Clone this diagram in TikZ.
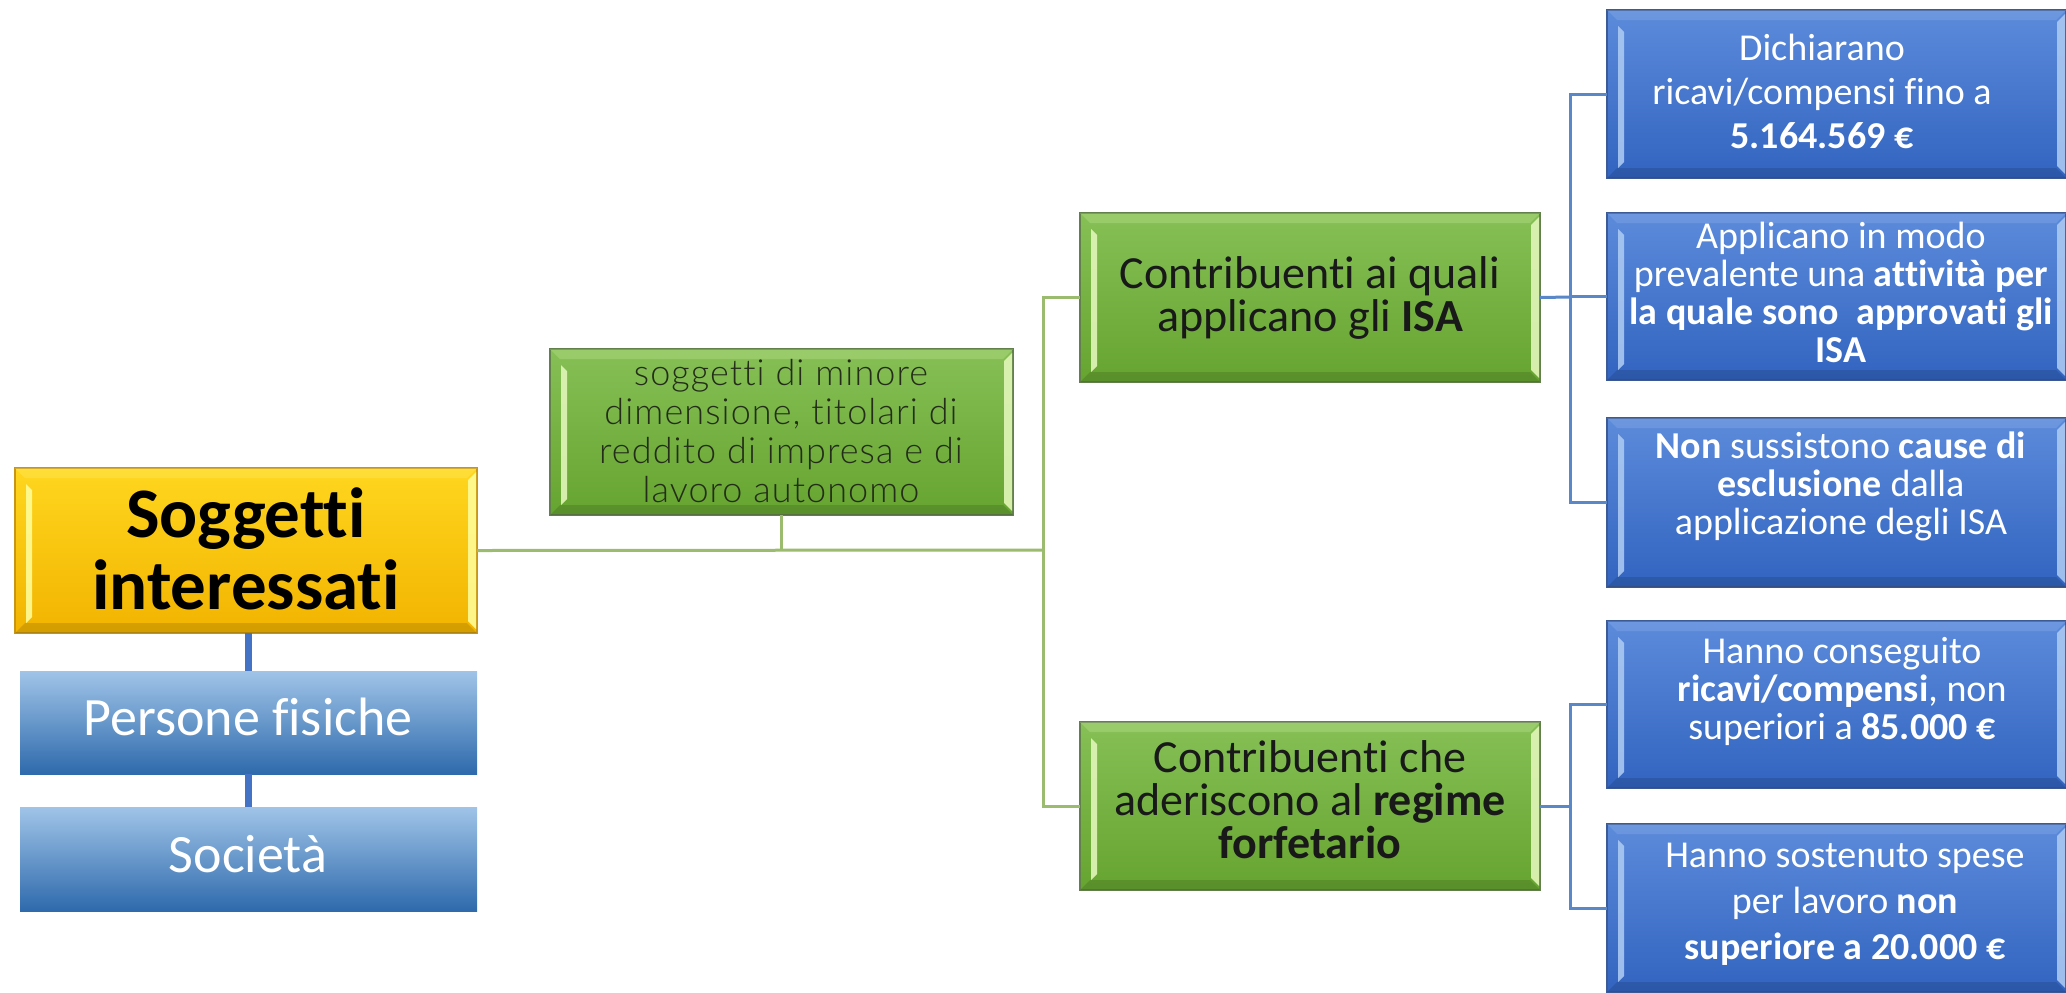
\documentclass[tikz,border=0pt]{standalone}
\usepackage{fontspec}
\setmainfont{Carlito}[Ligatures=NoCommon]
\newfontfamily\latofont{Lato Light}[Ligatures=NoCommon, LetterSpace=3]
\usetikzlibrary{calc}
\definecolor{gTop}{RGB}{134,192,86}
\definecolor{gBot}{RGB}{102,164,48}
\definecolor{gLight}{RGB}{226,246,184}
\definecolor{gEdge}{RGB}{98,128,76}
\definecolor{yTop}{RGB}{255,214,30}
\definecolor{yBot}{RGB}{242,180,0}
\definecolor{yLight}{RGB}{255,252,150}
\definecolor{yEdge}{RGB}{200,150,20}
\definecolor{bTop}{RGB}{92,139,219}
\definecolor{bBot}{RGB}{50,100,192}
\definecolor{bLight}{RGB}{170,200,242}
\definecolor{bEdge}{RGB}{60,90,150}
\definecolor{pTop}{RGB}{160,196,232}
\definecolor{pBot}{RGB}{46,106,172}
\definecolor{lineGreen}{RGB}{155,187,110}
\definecolor{lineBlue}{RGB}{90,135,200}
\definecolor{thickBlue}{RGB}{68,114,196}
\definecolor{sogText}{RGB}{35,45,25}
\tikzset{
  boxbase/.style={inner sep=0pt, outer sep=0pt, line width=0.8pt},
  gline/.style={draw=lineGreen, line width=1.5pt},
  bline/.style={draw=lineBlue, line width=1.5pt},
  thickline/.style={draw=thickBlue, line width=3.5pt},
  lbl/.style={align=center, inner sep=0pt},
  bluetxt/.style={lbl, text=white, font=\fontsize{19}{19}\selectfont},
  greentxt/.style={lbl, text=black!90, font=\fontsize{23}{21.5}\selectfont},
}
% name, x0, y0, x1, y1, colour prefix
\newcommand\bevelbox[6]{%
  \node[boxbase, minimum width={(#4-(#2))*0.5pt}, minimum height={(#5-(#3))*0.5pt},
        top color=#6Top, bottom color=#6Bot, draw=#6Edge] (#1) at ({(#2+#4)/2},{(#3+#5)/2}) {};
  \fill[#6Light, opacity=.22] (#2,#3) -- (#4,#3) -- ({#4-10},{#3+10}) -- ({#2+10},{#3+10}) -- cycle;
  \fill[black, opacity=.12] (#2,#5) -- (#4,#5) -- ({#4-10},{#5-10}) -- ({#2+10},{#5-10}) -- cycle;
  \fill[#6Light, opacity=.9] ({#2+11},{#3+16}) -- ({#2+17},{#3+22}) -- ({#2+17},{#5-16}) -- ({#2+11},{#5-10}) -- cycle;
  \fill[#6Light, opacity=.9] ({#4-9},{#3+12}) -- ({#4-1},{#3+4}) -- ({#4-1},{#5-4}) -- ({#4-9},{#5-12}) -- cycle;
}
\begin{document}
\begin{tikzpicture}[x=0.5pt, y=-0.5pt]
\useasboundingbox[fill=white] (0,0) rectangle (2066,992);

% left column
\bevelbox{yel}{15}{468}{477}{633}{y}
\node[boxbase, minimum width=228.5pt, minimum height=51.5pt, top color=pTop, bottom color=pBot] (pers) at (248.5,722.5) {};
\node[boxbase, minimum width=228.5pt, minimum height=52pt, top color=pTop, bottom color=pBot] (soc) at (248.5,859) {};

% middle
\bevelbox{sog}{550}{349}{1013}{515}{g}
\bevelbox{isa}{1080}{213}{1540}{382}{g}
\bevelbox{reg}{1080}{722}{1540}{890}{g}

% right column
\bevelbox{bA}{1607}{10}{2066}{178}{b}
\bevelbox{bB}{1607}{213}{2066}{380}{b}
\bevelbox{bC}{1607}{418}{2066}{587}{b}
\bevelbox{bD}{1607}{621}{2066}{788}{b}
\bevelbox{bE}{1607}{824}{2066}{992}{b}

% connectors
\draw[thickline] (pers.north) -- (pers.north |- yel.south);
\draw[thickline] (soc.north) -- (pers.south -| soc.north);
\coordinate (gj) at (1043,550);
\draw[gline] (yel.east) -- (gj);
\draw[gline] (sog.south) -- (sog.south |- yel.east);
\draw[gline] (isa.west) -- ++(-37,0) |- (reg.west);
\coordinate (bj1) at (1570,297);
\coordinate (bj2) at (1570,806);
\draw[bline] (isa.east) -- (bj1);
\draw[bline] (bA.west) -- (bA.west -| bj1) |- (bC.west);
\draw[bline] (bB.west) -- (bB.west -| bj1);
\draw[bline] (reg.east) -- (bj2);
\draw[bline] (bD.west) -- (bD.west -| bj2) |- (bE.west);

% texts
\node[lbl, font=\fontsize{35.5}{36}\selectfont\bfseries] (tYel) at (246,549) {Soggetti\\interessati};
\node[lbl, anchor=base, text=white, font=\fontsize{27}{30}\selectfont] (tPers) at (248,735) {Persone fisiche};
\node[lbl, anchor=base, text=white, font=\fontsize{27}{30}\selectfont] (tSoc) at (248,872) {Società};
\node[lbl, text=sogText, font=\latofont\fontsize{18}{19.5}\selectfont] (tSog) at (781,431)
  {soggetti di minore\\dimensione, titolari di\\reddito di impresa e di\\lavoro autonomo};
\node[greentxt] (tIsa) at (1310,298) {Contribuenti ai quali\\applicano gli \textbf{ISA}};
\node[greentxt] (tReg) at (1310,800) {Contribuenti che\\aderiscono al \textbf{regime}\\\textbf{forfetario}};
\node[bluetxt, font=\fontsize{19}{22}\selectfont] (tA) at (1822,91) {Dichiarano\\ricavi/compensi fino a\\\textbf{5.164.569 €}};
\node[bluetxt] (tB) at (1841,292) {Applicano in modo\\prevalente una \textbf{attività per}\\\textbf{la quale sono\ \ approvati gli}\\\textbf{ISA}};
\node[bluetxt] (tC) at (1841,486) {\textbf{Non} sussistono \textbf{cause di}\\\textbf{esclusione} dalla\\applicazione degli ISA};
\node[bluetxt] (tD) at (1842,691) {Hanno conseguito\\\textbf{ricavi/compensi}, non\\superiori a \textbf{85.000 €}};
\node[bluetxt, font=\fontsize{19}{23}\selectfont] (tE) at (1845,904) {Hanno sostenuto spese\\per lavoro \textbf{non}\\\textbf{superiore a 20.000 €}};
\end{tikzpicture}
\end{document}
